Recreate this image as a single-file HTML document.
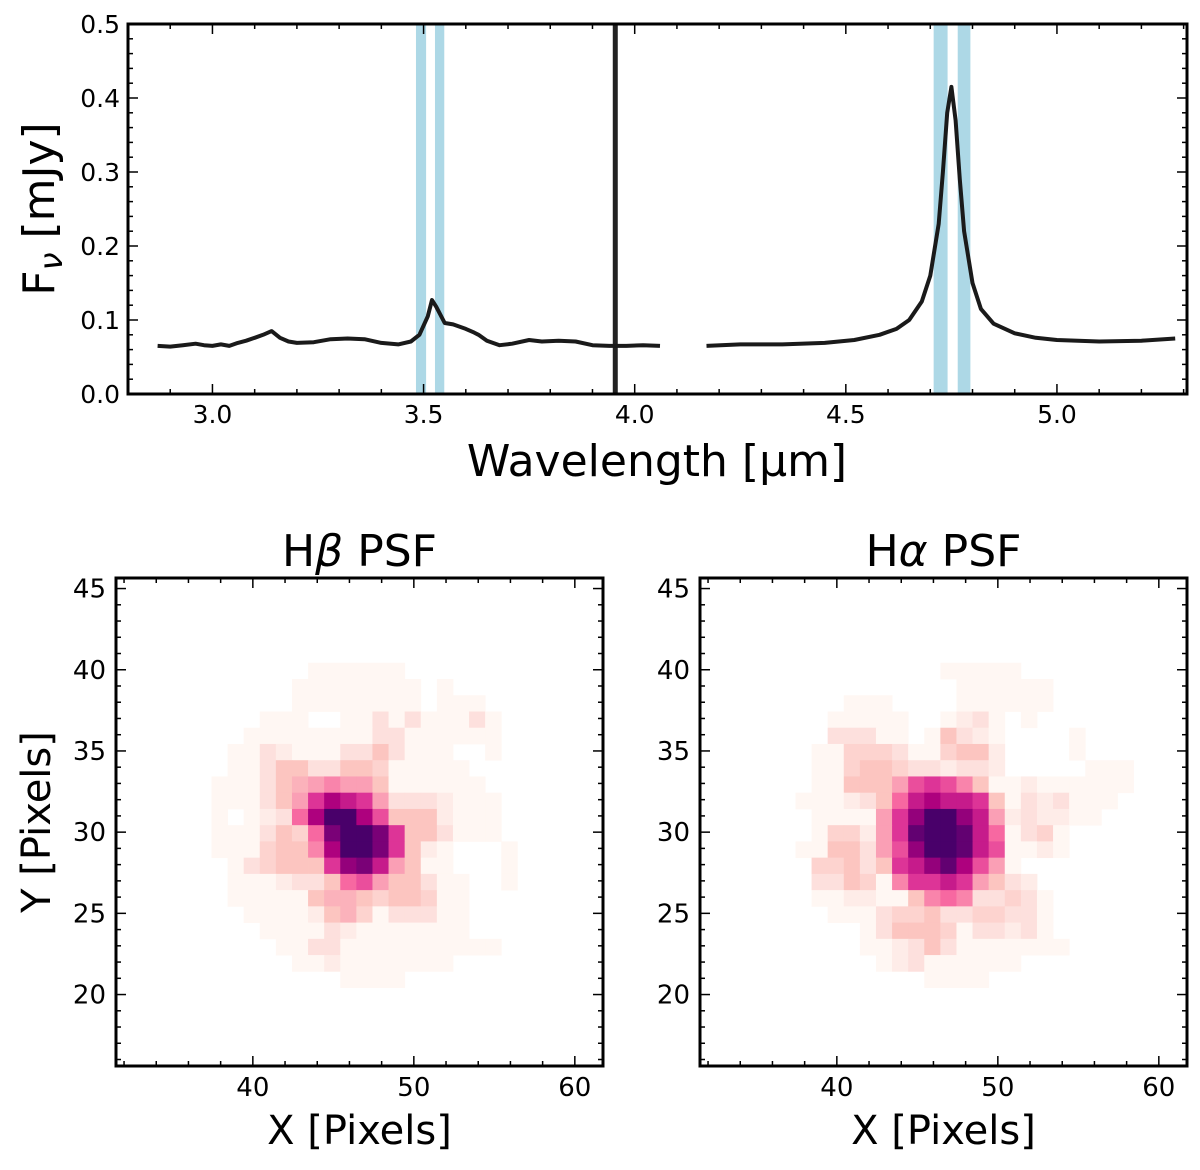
<!DOCTYPE html>
<html><head><meta charset="utf-8"><style>
html,body{margin:0;padding:0;background:#fff;}
svg{display:block;font-family:"DejaVu Sans","Liberation Sans",sans-serif;}
</style></head><body>
<svg id="fig" width="1200" height="1170" viewBox="0 0 1200 1170" xmlns="http://www.w3.org/2000/svg"></svg>
<script>
// ---- Spectrum data ----
const seg1Wave=[2.87,2.90,2.93,2.96,2.98,3.00,3.02,3.04,3.06,3.08,3.10,3.12,3.14,3.16,3.18,3.20,3.24,3.28,3.32,3.36,3.40,3.44,3.47,3.49,3.51,3.52,3.53,3.55,3.57,3.60,3.62,3.63,3.65,3.68,3.71,3.75,3.78,3.82,3.86,3.90,3.94,3.98,4.02,4.06];
const seg1Flux=[0.065,0.064,0.066,0.068,0.066,0.065,0.067,0.065,0.069,0.072,0.076,0.080,0.085,0.076,0.071,0.069,0.070,0.074,0.075,0.074,0.069,0.067,0.071,0.080,0.105,0.127,0.118,0.096,0.094,0.088,0.083,0.080,0.072,0.066,0.068,0.073,0.071,0.072,0.071,0.066,0.065,0.065,0.066,0.065];
const seg2Wave=[4.17,4.25,4.35,4.45,4.52,4.58,4.62,4.65,4.68,4.70,4.72,4.73,4.74,4.75,4.76,4.77,4.78,4.80,4.82,4.85,4.90,4.95,5.00,5.10,5.20,5.28];
const seg2Flux=[0.065,0.067,0.067,0.069,0.073,0.080,0.088,0.100,0.125,0.160,0.230,0.300,0.380,0.415,0.370,0.290,0.220,0.150,0.115,0.095,0.082,0.076,0.073,0.071,0.072,0.075];
const bandStarts=[3.482,3.527,4.708,4.765];
const bandEnds=[3.506,3.549,4.741,4.795];
const spikeWave=[3.954];
const xTicks=[3.0,3.5,4.0,4.5,5.0];
const yTicks=[0.0,0.1,0.2,0.3,0.4,0.5];
// ---- PSF data: rows from top (y high) to bottom ----
const hbRows=[
[0,0,0,0,0,0,1,1,1,1,1,1,0,0,0,0,0,0,0,0],
[0,0,0,0,0,1,1,1,1,1,1,1,1,0,1,0,0,0,0,0],
[0,0,0,0,0,1,1,1,1,1,1,1,1,0,1,1,1,0,0,0],
[0,0,0,1,1,1,0,0,1,1,2,1,2,1,1,1,2,1,0,0],
[0,0,1,1,1,1,1,1,1,1,2,2,1,1,1,1,1,1,0,0],
[0,1,1,2,1.5,1,1,1,2,2,3,2,1,1,1,0,0,1,0,0],
[0,1,1,2,3,3,2,2,3,3,2.5,1,1,1,1,1,0,0,0,0],
[1,1,1,2,3,3.5,4,4.5,4,4,3,1,1,1,1,1,1,0,0,0],
[1,1,1,2,3,4,6,7,6.5,6,4,2,2,2,1.5,1,1,1,0,0],
[1,0,1,1.5,2,5,7,9,9,7,5.5,3,3,3,1.5,1,1,1,0,0],
[1,1,1,2,3,2.5,5,8,9,9,8,6,3,3,2,1,1,1,0,0],
[1,1,1,2.5,3,3,4.5,7,9,9,8,6,3,1.5,1,0,0,0,1,0],
[0,1,2,2.5,3,3,3,6,7.5,8,6.5,4,3,1,1,0,0,0,1,0],
[0,1,1,1,1.5,2,2,3,5,5.5,4,3,3,2,1,1,0,0,1,0],
[0,1,1,1,1,1,3,3.5,3.5,3,2.5,3,3,2.5,1,1,0,0,0,0],
[0,0,1,1,1,1,1.5,3,3.5,2.5,1,2,2,2,1,1,0,0,0,0],
[0,0,0,1,1,1,1,2,1.5,1,1,1,1,1,1,1,0,0,0,0],
[0,0,0,0,1,1,2,2,1,1,1,1,1,1,1,1,1,1,0,0],
[0,0,0,0,0,1,1,1.5,1,1,1,1,1,1,1,0,0,0,0,0],
[0,0,0,0,0,0,0,0,1,1,1,1,0,0,0,0,0,0,0,0]];
const haRows=[
[0,0,0,0,0,0,0,0,0,1,1,1,1,1,0,0,0,0,0,0,0],
[0,0,0,0,0,0,0,0,0,0,1,1,1,1,1,1,0,0,0,0,0],
[0,0,0,1,1,1,0,0,0,0,1,1,1,1,1,1,0,0,0,0,0],
[0,0,1,1,1,1,1,0,0,1,1.5,2,1,0,1,0,0,0,0,0,0],
[0,0,2,2,2,1,1,0,1,3,2,1.5,1,0,0,0,0,1,0,0,0],
[0,1,1,2.5,2.5,2.5,2,1,1,2.5,3,3,1.5,0,0,0,0,1,0,0,0],
[0,1,1,2.5,3,3,2.5,2,2,1.5,2,2,1.5,0,0,0,0,0,1,1,1],
[0,1,1,3,3,3,4,5.5,6,5.5,4.5,3,1,1,1.5,1,1,1,1,1,1],
[1,1,1,1.5,2,3,5,6.5,7,6.5,6.5,6,3,1,2,1.5,2,1,1,1,0],
[0,1,1,1,1,4,6,7.5,9,9,7.5,6.5,4,1.5,2,1.5,1.5,1,1,0,0],
[0,1,2.5,2.5,1.5,4,6,8.5,9,9,8.5,6.5,5,1,2,2.5,1,0,0,0,0],
[1,1,3,3,2,4,5.5,7.5,9,9,8.5,6.5,5.5,1,1,1.5,1,0,0,0,0],
[0,2.5,2.5,3,2,3,6,6.5,7.5,8.5,7,5.5,4,1,0,0,0,0,0,0,0],
[0,2,2,3,2.5,0.5,4.5,6,6,6.5,6,4,3,2,1.5,0,0,0,0,0,0],
[0,1,1,1.5,1.5,1,1,3,4.5,5,4.5,2,2,2.5,2,1,0,0,0,0,0],
[0,0,1,1,1,2,2.5,2.5,3,2,2,2.5,2.5,2,2,1,0,0,0,0,0],
[0,0,0,0,1,2,3,3,3,2.5,1,2,2,1.5,2,1,0,0,0,0,0],
[0,0,0,0,1,1,1.5,2,3,2,1,1,1,1,1,1,1,0,0,0,0],
[0,0,0,0,0,1,1.5,2,1,1,1,1,1,1,0,0,0,0,0,0,0],
[0,0,0,0,0,0,0,0,1,1,1,1,0,0,0,0,0,0,0,0,0]];
const psfXTicks=[40,50,60];
const psfYTicks=[20,25,30,35,40,45];

const NS="http://www.w3.org/2000/svg";
const svg=document.getElementById('fig');
function mk(tag,attrs,parent){const e=document.createElementNS(NS,tag);for(const k in attrs)e.setAttribute(k,attrs[k]);(parent||svg).appendChild(e);return e;}
function txt(s,attrs,parent){const e=mk('text',attrs,parent);e.textContent=s;return e;}

// ---- Top spectrum ----
const T={x0:128,x1:1187,y0:24,y1:394,xmin:2.80,xmax:5.308,ymin:0,ymax:0.5};
const sx=v=>T.x0+(v-T.xmin)/(T.xmax-T.xmin)*(T.x1-T.x0);
const sy=v=>T.y1-(v-T.ymin)/(T.ymax-T.ymin)*(T.y1-T.y0);
const gTop=mk('g',{});


for(let i=0;i<bandStarts.length;i++){
  const r=mk('rect',{x:sx(bandStarts[i]),y:T.y0,width:sx(bandEnds[i])-sx(bandStarts[i]),height:T.y1-T.y0,fill:'#add8e6'},gTop);
  
  
}
spikeWave.forEach(w=>{
  const l=mk('line',{x1:sx(w),x2:sx(w),y1:T.y1,y2:T.y0,stroke:'#222',"stroke-width":5},gTop);
  
  
});
[[seg1Wave,seg1Flux],[seg2Wave,seg2Flux]].forEach(([w,f])=>{
  const p=mk('polyline',{points:w.map((v,i)=>sx(v).toFixed(1)+','+sy(f[i]).toFixed(1)).join(' '),fill:'none',stroke:'#1a1a1a',"stroke-width":4,"stroke-linejoin":'round'},gTop);
  
  
});
for(let v=2.8;v<=5.31;v+=0.1){const x=sx(v);const major=xTicks.some(t=>Math.abs(t-v)<1e-6);const L=major?10:5;
  mk('line',{x1:x,x2:x,y1:T.y1,y2:T.y1-L,stroke:'#000','stroke-width':1.5},gTop);
  mk('line',{x1:x,x2:x,y1:T.y0,y2:T.y0+L,stroke:'#000','stroke-width':1.5},gTop);}
for(let v=0;v<=0.5001;v+=0.02){const y=sy(v);const major=yTicks.some(t=>Math.abs(t-v)<1e-6);const L=major?10:5;
  mk('line',{x1:T.x0,x2:T.x0+L,y1:y,y2:y,stroke:'#000','stroke-width':1.5},gTop);
  mk('line',{x1:T.x1,x2:T.x1-L,y1:y,y2:y,stroke:'#000','stroke-width':1.5},gTop);}
xTicks.forEach(v=>{const t=txt(v.toFixed(1),{x:sx(v),y:T.y1+29,'text-anchor':'middle','font-size':25},gTop);});
yTicks.forEach(v=>{const t=txt(v.toFixed(1),{x:T.x0-8,y:sy(v)+9,'text-anchor':'end','font-size':25},gTop);});
mk('rect',{x:T.x0,y:T.y0,width:T.x1-T.x0,height:T.y1-T.y0,fill:'none',stroke:'#000','stroke-width':3},gTop);
let xl=txt('Wavelength [μm]',{x:657,y:476,'text-anchor':'middle','font-size':44},gTop);

let yl=mk('text',{x:0,y:0,transform:'translate(54,209) rotate(-90)','text-anchor':'middle','font-size':44},gTop);
yl.innerHTML='F<tspan font-style="italic" font-size="32" dy="8">ν</tspan><tspan dy="-8"> [mJy]</tspan>';


// ---- RdPu colormap ----
const stops=['#fff7f3','#fde0dd','#fcc5c0','#fa9fb5','#f768a1','#dd3497','#ae017e','#7a0177','#49006a'];
function hex(h){return [1,3,5].map(i=>parseInt(h.substr(i,2),16));}
function cmap(v){const t=Math.max(0,Math.min(1,(v-1)/8))*(stops.length-1);const i=Math.min(stops.length-2,Math.floor(t));const f=t-i;
  const a=hex(stops[i]),b=hex(stops[i+1]);return 'rgb('+a.map((c,k)=>Math.round(c+(b[k]-c)*f)).join(',')+')';}

function psf(P,rows,title,name,showY){
  const g=mk('g',{});
  
  
  const X=v=>P.x0+(v-P.xmin)/(P.xmax-P.xmin)*(P.x1-P.x0);
  const Y=v=>P.y1-(v-P.ymin)/(P.ymax-P.ymin)*(P.y1-P.y0);
  const gx0=37.43, gyTop=40.43;
  rows.forEach((row,r)=>row.forEach((v,c)=>{
    if(v<=0)return;
    const xa=X(gx0+c),xb=X(gx0+c+1),ya=Y(gyTop-r),yb=Y(gyTop-r-1);
    const cell=mk('rect',{x:xa,y:ya,width:xb-xa+0.4,height:yb-ya+0.4,fill:cmap(v)},g);
    
    
  }));
  for(let v=32;v<=61.7;v+=2){const x=X(v);const L=(v%10===0)?10:5;
    mk('line',{x1:x,x2:x,y1:P.y1,y2:P.y1-L,stroke:'#000','stroke-width':1.5},g);
    mk('line',{x1:x,x2:x,y1:P.y0,y2:P.y0+L,stroke:'#000','stroke-width':1.5},g);}
  for(let v=16;v<=45.6;v+=1){const y=Y(v);const L=(v%5===0)?10:5;
    mk('line',{x1:P.x0,x2:P.x0+L,y1:y,y2:y,stroke:'#000','stroke-width':1.5},g);
    mk('line',{x1:P.x1,x2:P.x1-L,y1:y,y2:y,stroke:'#000','stroke-width':1.5},g);}
  psfXTicks.forEach(v=>{const t=txt(String(v),{x:X(v),y:P.y1+30,'text-anchor':'middle','font-size':26},g);});
  psfYTicks.forEach(v=>{const t=txt(String(v),{x:P.x0-10,y:Y(v)+9,'text-anchor':'end','font-size':26},g);});
  mk('rect',{x:P.x0,y:P.y0,width:P.x1-P.x0,height:P.y1-P.y0,fill:'none',stroke:'#000','stroke-width':3},g);
  const xt=txt('X [Pixels]',{x:(P.x0+P.x1)/2,y:1144,'text-anchor':'middle','font-size':40},g);
  
  const tt=mk('text',{x:(P.x0+P.x1)/2,y:566,'text-anchor':'middle','font-size':44},g);
  tt.innerHTML='H<tspan font-style="italic">'+title+'</tspan> PSF';
  
  if(showY){const yt=txt('Y [Pixels]',{x:0,y:0,transform:'translate(50,822) rotate(-90)','text-anchor':'middle','font-size':40},g);
    }
}
psf({x0:116,x1:603,y0:578,y1:1066,xmin:31.5,xmax:61.75,ymin:15.6,ymax:45.65},hbRows,'β','hbeta-psf-panel',true);
psf({x0:700,x1:1187,y0:578,y1:1066,xmin:31.5,xmax:61.75,ymin:15.6,ymax:45.65},haRows,'α','halpha-psf-panel',false);
</script>
</body></html>
